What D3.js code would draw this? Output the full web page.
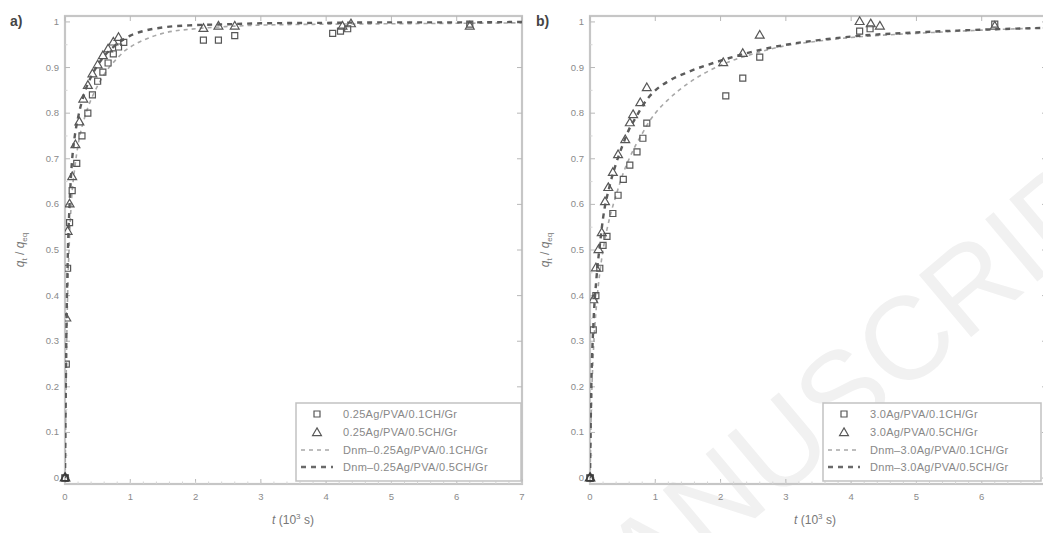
<!DOCTYPE html>
<html>
<head>
<meta charset="utf-8">
<script src="https://cdn.jsdelivr.net/npm/d3@7/dist/d3.min.js"></script>
<style>
  html, body { margin: 0; padding: 0; background: #fff; }
  svg { display: block; }
  text { font-family: "Liberation Sans", Arial, sans-serif; }
</style>
</head>
<body>
<svg id="fig" width="1043" height="533"></svg>
<script>
// ---- Axis ticks ----
const xTicks = [0, 1, 2, 3, 4, 5, 6, 7];
const yTicks = [0, 0.1, 0.2, 0.3, 0.4, 0.5, 0.6, 0.7, 0.8, 0.9, 1];
const yTickLabels = ["0", "0.1", "0.2", "0.3", "0.4", "0.5", "0.6", "0.7", "0.8", "0.9", "1"];

// ---- Panel a: 0.25Ag/PVA/CH/Gr ----
const aSqT = [0, 0.02, 0.04, 0.07, 0.11, 0.18, 0.26, 0.35, 0.42, 0.5, 0.58, 0.66, 0.74, 0.82, 0.9, 2.12, 2.35, 2.6, 4.1, 4.22, 4.33, 6.2];
const aSqQ = [0, 0.25, 0.46, 0.56, 0.63, 0.69, 0.75, 0.80, 0.84, 0.87, 0.89, 0.91, 0.93, 0.945, 0.955, 0.96, 0.96, 0.97, 0.975, 0.98, 0.985, 0.995];
const aTrT = [0, 0.02, 0.04, 0.07, 0.11, 0.16, 0.22, 0.28, 0.35, 0.42, 0.5, 0.58, 0.66, 0.74, 0.82, 2.12, 2.35, 2.6, 4.25, 4.38, 6.2];
const aTrQ = [0, 0.35, 0.54, 0.6, 0.66, 0.73, 0.78, 0.83, 0.86, 0.885, 0.905, 0.925, 0.94, 0.955, 0.965, 0.985, 0.99, 0.99, 0.99, 0.995, 0.99];
const aFitT = [0, 0.01, 0.02, 0.04, 0.07, 0.1, 0.15, 0.2, 0.3, 0.4, 0.5, 0.6, 0.7, 0.8, 0.9, 1.0, 1.2, 1.5, 2.0, 2.5, 3, 4, 5, 6, 7];
const aFit1Q = [0, 0.12, 0.24, 0.4, 0.53, 0.61, 0.68, 0.73, 0.79, 0.83, 0.86, 0.885, 0.905, 0.92, 0.935, 0.945, 0.96, 0.975, 0.985, 0.99, 0.993, 0.995, 0.996, 0.997, 0.998];
const aFit5Q = [0, 0.16, 0.3, 0.47, 0.6, 0.68, 0.75, 0.79, 0.845, 0.88, 0.905, 0.925, 0.94, 0.952, 0.962, 0.97, 0.98, 0.988, 0.993, 0.995, 0.997, 0.998, 0.999, 0.999, 1.0];
const aLegend = ["0.25Ag/PVA/0.1CH/Gr", "0.25Ag/PVA/0.5CH/Gr", "Dnm\u20130.25Ag/PVA/0.1CH/Gr", "Dnm\u20130.25Ag/PVA/0.5CH/Gr"];

// ---- Panel b: 3.0Ag/PVA/CH/Gr ----
const bSqT = [0, 0.05, 0.09, 0.15, 0.2, 0.26, 0.35, 0.43, 0.51, 0.61, 0.72, 0.81, 0.87, 2.08, 2.34, 2.6, 4.13, 4.29, 6.2];
const bSqQ = [0, 0.325, 0.4, 0.46, 0.51, 0.53, 0.58, 0.62, 0.655, 0.686, 0.715, 0.745, 0.778, 0.838, 0.877, 0.923, 0.98, 0.985, 0.995];
const bTrT = [0, 0.05, 0.09, 0.13, 0.18, 0.23, 0.28, 0.35, 0.43, 0.54, 0.61, 0.66, 0.77, 0.87, 2.04, 2.34, 2.6, 4.13, 4.3, 4.44, 6.2];
const bTrQ = [0, 0.39, 0.46, 0.5, 0.537, 0.605, 0.636, 0.669, 0.708, 0.741, 0.778, 0.796, 0.822, 0.855, 0.91, 0.93, 0.97, 1.0, 0.995, 0.99, 0.99];
const bFitT = [0, 0.02, 0.05, 0.1, 0.15, 0.2, 0.3, 0.4, 0.5, 0.6, 0.7, 0.8, 0.9, 1.0, 1.2, 1.5, 2.0, 2.5, 3.0, 3.5, 4.0, 5.0, 6.0, 7.0];
const bFit1Q = [0, 0.15, 0.27, 0.38, 0.45, 0.5, 0.57, 0.62, 0.665, 0.7, 0.73, 0.755, 0.78, 0.8, 0.83, 0.865, 0.905, 0.93, 0.948, 0.958, 0.966, 0.975, 0.982, 0.987];
const bFit5Q = [0, 0.2, 0.33, 0.44, 0.51, 0.57, 0.64, 0.69, 0.73, 0.765, 0.79, 0.815, 0.835, 0.85, 0.87, 0.89, 0.915, 0.935, 0.95, 0.96, 0.968, 0.977, 0.983, 0.987];
const bLegend = ["3.0Ag/PVA/0.1CH/Gr", "3.0Ag/PVA/0.5CH/Gr", "Dnm\u20133.0Ag/PVA/0.1CH/Gr", "Dnm\u20133.0Ag/PVA/0.5CH/Gr"];

const zip = (t, q) => t.map((v, i) => ({ t: v, q: q[i] }));
const W = 1043;

const svg = d3.select("#fig");

// faint diagonal watermark behind panel b
svg.append("text")
  .attr("transform", "translate(572,672) rotate(-40)")
  .attr("font-family", "Liberation Serif, serif")
  .attr("font-size", 118)
  .attr("fill", "#f1f1f1")
  .text("MANUSCRIPT");

const FRAME = "#c6c6c6";
const TICKTXT = "#8a8a8a";
const MARK = "#575757";

function drawPanel(cfg) {
  const x = d3.scaleLinear().domain([0, 7]).range([cfg.x0, cfg.x1]);
  const y = d3.scaleLinear().domain([-0.013, 1.013]).range([484, 16]);
  const g = svg.append("g");

  // clip to plot box
  const clipId = "clip" + cfg.id;
  g.append("clipPath").attr("id", clipId)
    .append("rect").attr("x", cfg.x0).attr("y", 16).attr("width", cfg.x1 - cfg.x0).attr("height", 468);

  // frame
  g.append("rect").attr("x", cfg.x0).attr("y", 16)
    .attr("width", cfg.x1 - cfg.x0).attr("height", 468)
    .attr("fill", "none").attr("stroke", FRAME).attr("stroke-width", 2.2);

  // major/minor ticks, inward on all four sides
  const tk = g.append("g").attr("stroke", "#b8b8b8").attr("stroke-width", 1);
  xTicks.forEach(v => {
    tk.append("line").attr("x1", x(v)).attr("x2", x(v)).attr("y1", 484).attr("y2", 479);
    tk.append("line").attr("x1", x(v)).attr("x2", x(v)).attr("y1", 16).attr("y2", 21);
  });
  d3.range(0, 7.001, 0.2).forEach(v => {
    if (x(v) > cfg.x1) return;
    tk.append("line").attr("x1", x(v)).attr("x2", x(v)).attr("y1", 484).attr("y2", 481.5).attr("stroke", "#d4d4d4");
  });
  yTicks.forEach(v => {
    tk.append("line").attr("x1", cfg.x0).attr("x2", cfg.x0 + 5).attr("y1", y(v)).attr("y2", y(v));
    tk.append("line").attr("x1", cfg.x1).attr("x2", cfg.x1 - 5).attr("y1", y(v)).attr("y2", y(v));
  });
  d3.range(0.05, 1, 0.1).forEach(v => {
    tk.append("line").attr("x1", cfg.x0).attr("x2", cfg.x0 + 2.5).attr("y1", y(v)).attr("y2", y(v)).attr("stroke", "#d4d4d4");
  });

  // tick labels (only those inside the figure)
  xTicks.forEach(v => {
    if (x(v) + 4 > W) return;
    g.append("text").attr("x", x(v)).attr("y", 500).attr("text-anchor", "middle")
      .attr("font-size", 9.5).attr("fill", TICKTXT).text(v);
  });
  yTicks.forEach((v, i) => {
    g.append("text").attr("x", cfg.x0 - 6).attr("y", y(v) + 3).attr("text-anchor", "end")
      .attr("font-size", 9.5).attr("fill", TICKTXT).text(yTickLabels[i]);
  });

  // axis titles
  const xt = g.append("text").attr("x", cfg.xtX).attr("y", 524)
    .attr("text-anchor", "middle").attr("font-size", 12).attr("fill", "#777");
  xt.append("tspan").attr("font-style", "italic").text("t");
  xt.append("tspan").text(" (10");
  xt.append("tspan").attr("font-size", 8).attr("dy", -5).text("3");
  xt.append("tspan").attr("dy", 5).text(" s)");

  const yt = g.append("text").attr("transform", `translate(${cfg.x0 - 41},250) rotate(-90)`)
    .attr("text-anchor", "middle").attr("font-size", 12).attr("fill", "#777");
  yt.append("tspan").attr("font-style", "italic").text("q");
  yt.append("tspan").attr("font-size", 8).attr("dy", 3).text("t");
  yt.append("tspan").attr("dy", -3).text(" / ");
  yt.append("tspan").attr("font-style", "italic").text("q");
  yt.append("tspan").attr("font-size", 8).attr("dy", 3).text("eq");

  // panel label
  g.append("text").attr("x", cfg.labelX).attr("y", 26).attr("font-size", 14)
    .attr("font-weight", "bold").attr("fill", "#444").text(cfg.label);

  const plot = g.append("g").attr("clip-path", `url(#${clipId})`);
  const line = d3.line().x(d => x(d.t)).y(d => y(d.q)).curve(d3.curveMonotoneX);

  // model curves
  plot.append("path").datum(zip(cfg.fitT, cfg.fit1))
    .attr("d", line).attr("fill", "none").attr("stroke", "#a8a8a8")
    .attr("stroke-width", 1.6).attr("stroke-dasharray", "4,4");
  plot.append("path").datum(zip(cfg.fitT, cfg.fit5))
    .attr("d", line).attr("fill", "none").attr("stroke", "#5c5c5c")
    .attr("stroke-width", 2.4).attr("stroke-dasharray", "5,5");

  // experimental points
  const sq = d3.symbol().type(d3.symbolSquare).size(36);
  const tr = d3.symbol().type(d3.symbolTriangle).size(34);
  plot.selectAll(null).data(zip(cfg.sqT, cfg.sqQ)).join("path")
    .attr("d", sq).attr("transform", d => `translate(${x(d.t)},${y(d.q)})`)
    .attr("fill", "none").attr("stroke", MARK).attr("stroke-width", 1.2);
  plot.selectAll(null).data(zip(cfg.trT, cfg.trQ)).join("path")
    .attr("d", tr).attr("transform", d => `translate(${x(d.t)},${y(d.q)})`)
    .attr("fill", "none").attr("stroke", MARK).attr("stroke-width", 1.2);
  // points at the origin sit on the frame corner; draw them unclipped
  g.append("path").attr("d", sq).attr("transform", `translate(${x(0)},${y(0)})`)
    .attr("fill", "none").attr("stroke", "#3c3c3c").attr("stroke-width", 1.5);
  g.append("path").attr("d", tr).attr("transform", `translate(${x(0)},${y(0)})`)
    .attr("fill", "none").attr("stroke", "#3c3c3c").attr("stroke-width", 1.5);

  // legend
  const L = cfg.legend;
  const lg = g.append("g");
  lg.append("rect").attr("x", L.x).attr("y", 403).attr("width", L.w).attr("height", 78)
    .attr("fill", "#fff").attr("stroke", "#c2c2c2").attr("stroke-width", 1.5);
  const rows = [414, 432, 450, 467];
  lg.append("path").attr("d", sq).attr("transform", `translate(${L.x + 21},${rows[0]})`)
    .attr("fill", "none").attr("stroke", MARK).attr("stroke-width", 1.2);
  lg.append("path").attr("d", tr).attr("transform", `translate(${L.x + 21},${rows[1] + 1})`)
    .attr("fill", "none").attr("stroke", MARK).attr("stroke-width", 1.2);
  lg.append("line").attr("x1", L.x + 5).attr("x2", L.x + 37).attr("y1", rows[2]).attr("y2", rows[2])
    .attr("stroke", "#a8a8a8").attr("stroke-width", 1.6).attr("stroke-dasharray", "4,4");
  lg.append("line").attr("x1", L.x + 5).attr("x2", L.x + 37).attr("y1", rows[3]).attr("y2", rows[3])
    .attr("stroke", "#6a6a6a").attr("stroke-width", 2.4).attr("stroke-dasharray", "5,5");
  cfg.legendText.forEach((s, i) => {
    lg.append("text").attr("x", L.x + 47).attr("y", rows[i] + 4)
      .attr("font-size", 11).attr("letter-spacing", 0.3).attr("fill", "#888").text(s);
  });
}

drawPanel({
  id: "a", label: "a)", labelX: 10, x0: 65, x1: 522, xtX: 293,
  sqT: aSqT, sqQ: aSqQ, trT: aTrT, trQ: aTrQ,
  fitT: aFitT, fit1: aFit1Q, fit5: aFit5Q,
  legend: { x: 296, w: 225 }, legendText: aLegend
});
drawPanel({
  id: "b", label: "b)", labelX: 536, x0: 590, x1: 1047, xtX: 815,
  sqT: bSqT, sqQ: bSqQ, trT: bTrT, trQ: bTrQ,
  fitT: bFitT, fit1: bFit1Q, fit5: bFit5Q,
  legend: { x: 823, w: 218 }, legendText: bLegend
});
</script>
</body>
</html>
